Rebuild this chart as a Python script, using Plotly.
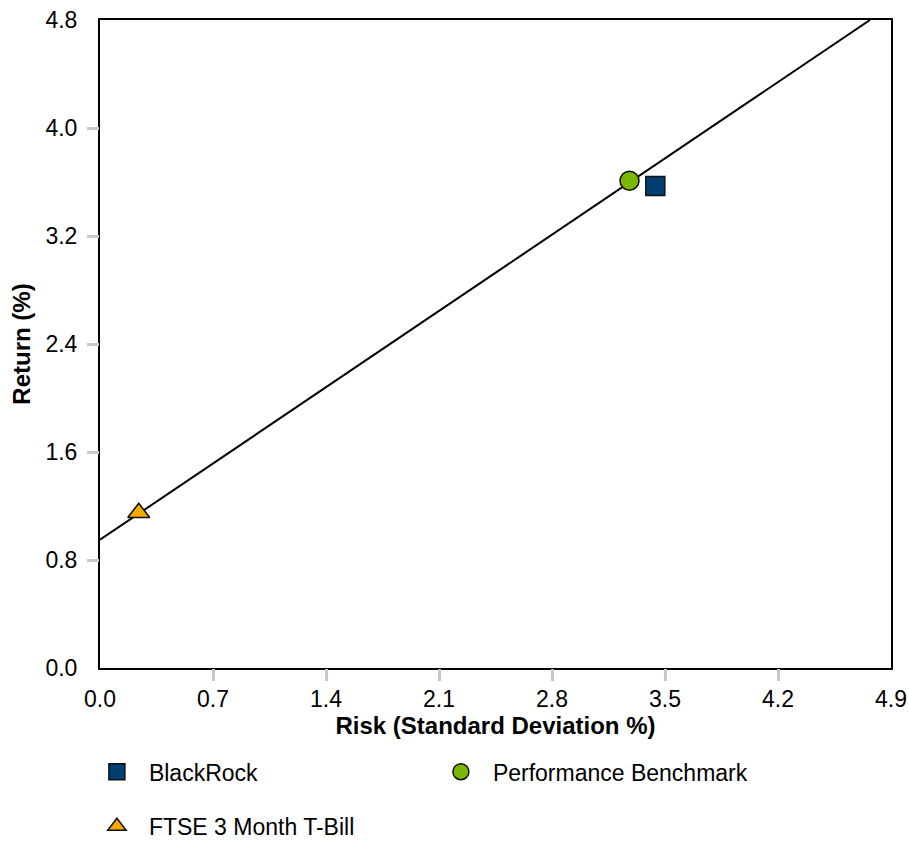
import plotly.graph_objects as go

# Data
series_names = ["BlackRock", "Performance Benchmark", "FTSE 3 Month T-Bill"]
risk = [3.44, 3.28, 0.24]
ret = [3.57, 3.61, 1.15]
symbols = ["square", "circle", "triangle-up"]
colors = ["#003f72", "#7ab800", "#f2a900"]

line_x = [0.0, 4.77]
line_y = [0.95, 4.80]

x_ticks = [0.0, 0.7, 1.4, 2.1, 2.8, 3.5, 4.2, 4.9]
y_ticks = [0.0, 0.8, 1.6, 2.4, 3.2, 4.0, 4.8]

FONT = "Liberation Sans, Arial, sans-serif"
FS = 23
TICKC = "#c5cacf"

fig = go.Figure()

fig.add_trace(go.Scatter(x=line_x, y=line_y, mode="lines",
                         line=dict(color="black", width=2),
                         showlegend=False, hoverinfo="skip"))

legends = ["legend", "legend", "legend2"]
for i in range(3):
    fig.add_trace(go.Scatter(
        x=[risk[i]], y=[ret[i]], mode="markers", name=series_names[i],
        legend=legends[i],
        marker=dict(symbol=symbols[i], size=19, color=colors[i],
                    line=dict(color="#111111", width=1.5))))

# invisible trace for the tick-only overlay axes
fig.add_trace(go.Scatter(x=[x_ticks[0]], y=[y_ticks[0]], xaxis="x2", yaxis="y2",
                         mode="markers", marker=dict(opacity=0),
                         showlegend=False, hoverinfo="skip"))

fig.update_layout(
    template="none",
    width=909, height=842,
    margin=dict(l=100, r=18, t=20, b=174, autoexpand=False),
    plot_bgcolor="white", paper_bgcolor="white",
    font=dict(family=FONT, size=FS, color="black"),
    xaxis=dict(range=[x_ticks[0], x_ticks[-1]], tickvals=x_ticks,
               ticktext=[f"{v:.1f}" for v in x_ticks],
               ticks="outside", ticklen=4, tickcolor="rgba(0,0,0,0)",
               ticklabelstandoff=5, automargin=False,
               showgrid=False, zeroline=False,
               showline=True, linecolor="black", linewidth=2, mirror=True,
               title=dict(text="<b>Risk (Standard Deviation %)</b>", standoff=7,
                          font=dict(size=24))),
    yaxis=dict(range=[y_ticks[0], y_ticks[-1]], tickvals=y_ticks,
               ticktext=[f"{v:.1f}" for v in y_ticks],
               ticks="outside", ticklen=12, tickcolor="rgba(0,0,0,0)",
               ticklabelstandoff=4, automargin=False,
               showgrid=False, zeroline=False,
               showline=True, linecolor="black", linewidth=2, mirror=True,
               title=dict(text="<b>Return (%)</b>", standoff=8,
                          font=dict(size=24))),
    xaxis2=dict(overlaying="x", anchor="y", range=[x_ticks[0], x_ticks[-1]],
                tickvals=x_ticks[1:-1], ticks="outside", ticklen=12, tickwidth=3,
                tickcolor=TICKC, showticklabels=False, showgrid=False,
                zeroline=False, showline=False, automargin=False),
    yaxis2=dict(overlaying="y", anchor="x", range=[y_ticks[0], y_ticks[-1]],
                tickvals=y_ticks[1:-1], ticks="outside", ticklen=12, tickwidth=3,
                tickcolor=TICKC, showticklabels=False, showgrid=False,
                zeroline=False, showline=False, automargin=False),
    legend=dict(orientation="h", x=-0.0191, xanchor="left", y=-0.127, yanchor="top",
                entrywidth=275, entrywidthmode="pixels", itemwidth=54,
                font=dict(size=FS), bgcolor="rgba(0,0,0,0)"),
    legend2=dict(orientation="h", x=-0.0191, xanchor="left", y=-0.2111, yanchor="top",
                 itemwidth=54, font=dict(size=FS), bgcolor="rgba(0,0,0,0)"),
)

fig.write_html("out.html",
               config={"displayModeBar": False},
               post_script="document.body.style.margin='0px';"
                           "document.body.style.overflow='hidden';")
